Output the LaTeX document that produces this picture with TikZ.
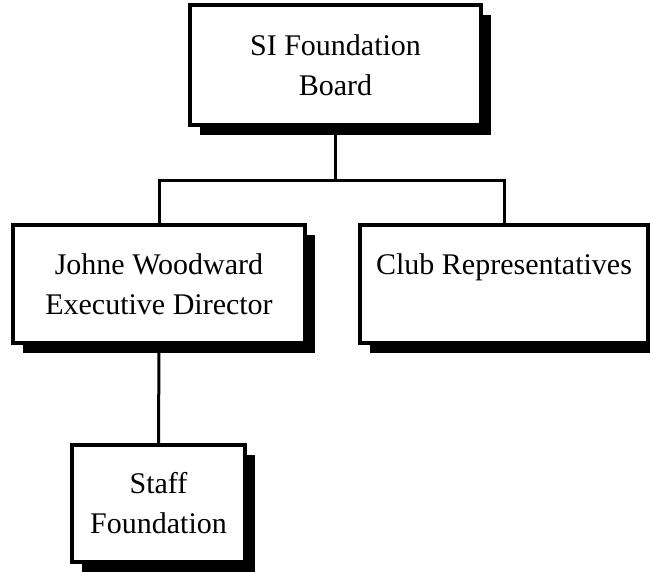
\documentclass[tikz,border=0pt]{standalone}
\usepackage{fontspec}
\setmainfont{Liberation Serif}
\usetikzlibrary{shadows}

\tikzset{
  orgbox/.style={draw, fill=white, line width=4.5pt, inner sep=0pt, align=center,
    font=\fontsize{30}{40}\selectfont,
    general shadow={fill=black, shadow xshift=10pt, shadow yshift=-10pt}},
}

\begin{document}
\begin{tikzpicture}[x=1pt,y=-1pt,line width=3pt,line join=miter]
  \useasboundingbox (0,0) rectangle (650,571);

  \node[orgbox, minimum width=291pt, minimum height=120pt] (board) at (335.5,65) {SI Foundation\\Board};
  \node[orgbox, minimum width=292pt, minimum height=118pt] (director) at (159,284) {Johne Woodward\\Executive Director};
  \node[orgbox, minimum width=288pt, minimum height=118pt] (club) at (504,284) {Club Representatives\\\mbox{}};
  \node[orgbox, minimum width=173pt, minimum height=117pt] (staff) at (158.5,503.5) {Staff\\Foundation};

  \coordinate (split) at (board.south |- 0,180);
  \draw (board.south) -- (split);
  \draw (director.north) |- (split) -| (club.north);
  \draw (director.south) -- (staff.north);

\end{tikzpicture}
\end{document}
